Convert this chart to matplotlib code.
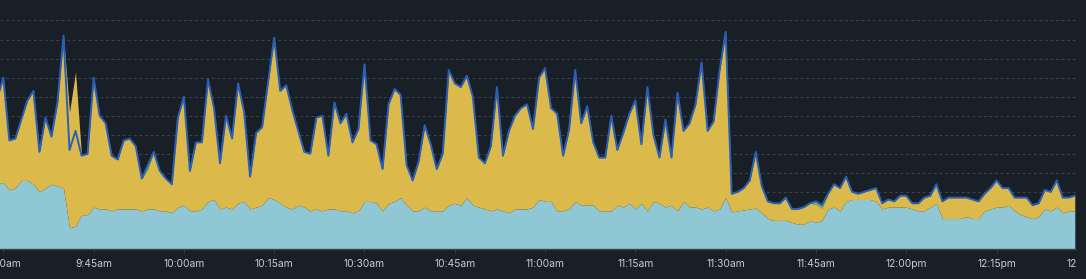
import matplotlib
matplotlib.use("Agg")
import matplotlib.pyplot as plt
import matplotlib.dates as mdates
from matplotlib.ticker import FuncFormatter
from matplotlib.transforms import Bbox, TransformedBbox
import numpy as np
import pandas as pd

# one sample per minute, starting 9:29
start = "2024-05-06 09:29"

# top of the stacked fill (light blue + yellow + green)
total = [
    79, 90, 57, 58, 68, 78, 83, 51, 69, 59,
    77, 112, 72, 93, 49, 50, 90, 70, 66, 49,
    47, 57, 58, 54, 37, 44, 51, 41, 37, 34,
    69, 80, 41, 56, 56, 89, 74, 45, 70, 58,
    87, 72, 38, 61, 64, 88, 111, 83, 86, 73,
    62, 51, 50, 69, 70, 49, 77, 66, 71, 56,
    63, 97, 57, 55, 42, 76, 84, 81, 44, 36,
    46, 65, 55, 42, 50, 94, 87, 85, 91, 80,
    48, 45, 54, 85, 49, 62, 70, 74, 76, 63,
    90, 95, 74, 71, 49, 63, 94, 66, 75, 56,
    48, 48, 70, 52, 61, 71, 78, 55, 85, 60,
    48, 68, 48, 82, 62, 66, 76, 98, 62, 67,
    94, 114, 29, 30, 32, 36, 51, 33, 25, 24,
    24, 27, 21, 21, 22, 24, 25, 23, 29, 34,
    32, 38, 30, 29, 30, 31, 32, 24, 26, 25,
    28, 28, 24, 24, 27, 28, 34, 25, 27, 27,
    27, 27, 26, 25, 29, 32, 36, 32, 32, 27,
    27, 27, 23, 24, 31, 30, 36, 27, 27, 28,
]

# bottom series (light blue)
light = [
    34, 35, 31, 32, 36, 36, 34, 30, 32, 34,
    33, 32, 11, 12, 18, 18, 22, 21, 21, 20,
    21, 21, 21, 21, 20, 21, 21, 20, 20, 19,
    22, 23, 20, 20, 21, 25, 26, 21, 22, 21,
    24, 25, 21, 22, 23, 27, 26, 24, 22, 21,
    23, 22, 20, 21, 20, 21, 21, 20, 20, 19,
    20, 25, 25, 24, 20, 24, 25, 27, 23, 20,
    20, 22, 20, 20, 20, 23, 24, 23, 27, 23,
    22, 21, 20, 21, 20, 19, 21, 21, 21, 22,
    26, 25, 25, 20, 20, 21, 25, 23, 23, 23,
    20, 20, 20, 23, 22, 24, 21, 24, 20, 25,
    24, 22, 23, 20, 25, 22, 22, 21, 22, 20,
    21, 27, 19.5, 20, 20.5, 21, 21.5, 19, 16, 15,
    15, 15, 14, 13, 13, 15, 14, 15, 21, 22,
    20, 25, 26, 26, 26, 26, 25, 21, 22, 22,
    22, 22, 21, 20, 20, 22, 24, 16, 16, 16,
    16, 17, 16, 16, 20, 21, 22, 22, 23, 20,
    18, 17, 16, 17, 21, 20, 22, 19, 20, 20,
]

# small green series, zero except a few minutes
green_times = ["09:54", "11:45", "11:46"]
green_vals = [2, 1.5, 1.5]

# the blue line follows the total except where it dips under the yellow
dip_times = ["09:41", "09:42"]
dip_vals = [52, 62]

tick_times = ["09:30", "09:45", "10:00", "10:15", "10:30", "10:45", "11:00",
              "11:15", "11:30", "11:45", "12:00", "12:15"]
extra_tick = "12:30"

BG = "#181f26"
GRID = "#3a434d"
LIGHT = "#8fc7d5"
YELLOW = "#dbb94b"
GREEN = "#73bf69"
LINE = "#2a5fb8"
TEXT = "#c8cad6"

day = start.split()[0]
times = pd.date_range(start, periods=len(total), freq="min")
total = np.array(total, dtype=float)
light = np.array(light, dtype=float)

green = pd.Series(0.0, index=times)
for t, v in zip(green_times, green_vals):
    green[pd.Timestamp(f"{day} {t}")] = v
green = green.values
yellow = total - light - green

line = pd.Series(total, index=times)
for t, v in zip(dip_times, dip_vals):
    line[pd.Timestamp(f"{day} {t}")] = v

plt.rcParams["font.family"] = ["Inter", "DejaVu Sans"]

fig = plt.figure(figsize=(10.86, 2.79), dpi=100, facecolor=BG)
ax_right = 1076 / 1086
ax = fig.add_axes([0, 30 / 279, ax_right, 247 / 279])
ax.set_facecolor(BG)

ax.fill_between(times, 0, light, color=LIGHT, lw=0, zorder=2)
ax.fill_between(times, light, light + yellow, color=YELLOW, lw=0, zorder=2)
ax.fill_between(times, light + yellow, light + yellow + green, color=GREEN, lw=0, zorder=2)
ax.plot(times, line.values, color=LINE, lw=1.4, zorder=3)

t930 = pd.Timestamp(f"{day} 09:30")
ax.set_xlim(t930 - pd.Timedelta(seconds=33), t930 + pd.Timedelta(minutes=178.2))
ax.set_ylim(0, 129.7)

ax.set_yticks(np.arange(10, 121, 10))
ax.yaxis.grid(True, color=GRID, linestyle=(0, (2.6, 2.4)), linewidth=0.8)
ax.set_axisbelow(True)
ax.tick_params(axis="y", left=False, labelleft=False)

ax.set_xticks([pd.Timestamp(f"{day} {t}") for t in tick_times])


def fmt(x, pos=None):
    d = mdates.num2date(x)
    h = d.hour % 12 or 12
    return f"{h}:{d.minute:02d}{'am' if d.hour < 12 else 'pm'}"


ax.xaxis.set_major_formatter(FuncFormatter(fmt))
ax.tick_params(axis="x", colors=GRID, labelcolor=TEXT, labelsize=7.4,
               length=2.5, width=0.8, pad=4.8)

for s in ["top", "left", "right"]:
    ax.spines[s].set_visible(False)
ax.spines["bottom"].set_color(GRID)
ax.spines["bottom"].set_linewidth(1)
ax.spines["bottom"].set_zorder(4)

# label of the next tick, past the plot edge, cut where the plot ends
xt = pd.Timestamp(f"{day} {extra_tick}")
lab = ax.annotate(fmt(mdates.date2num(xt)), xy=(xt, 0), xycoords=("data", "axes fraction"),
                  xytext=(0, -7.3), textcoords="offset points", ha="center", va="top",
                  color=TEXT, fontsize=7.4, annotation_clip=False)
lab.set_clip_box(TransformedBbox(Bbox([[0, 0], [ax_right, 1]]), fig.transFigure))
lab.set_clip_on(True)

fig.savefig("out.png", dpi=100, facecolor=BG)
